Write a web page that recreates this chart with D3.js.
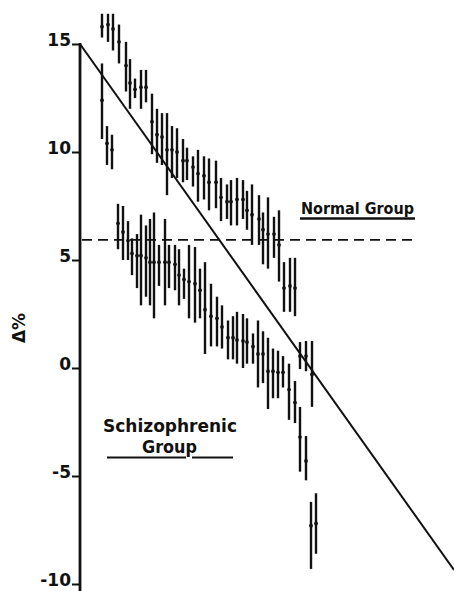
<!DOCTYPE html>
<html>
<head>
<meta charset="utf-8">
<script src="https://cdn.jsdelivr.net/npm/d3@7"></script>
<style>
  html, body { margin: 0; padding: 0; background: #fff; }
  svg { display: block; }
  text { font-family: "DejaVu Sans", "Liberation Sans", Arial, sans-serif; font-weight: bold; fill: #111; }
</style>
</head>
<body>
<svg id="chart" width="454" height="591"></svg>
<script>
// ---- data ----
const normalPos  = [22,28,33,39,46,50,55,61,66,72,77,82,87,92,97,103,107,113,118,124,129,136,141,147,151,157,163,167,172,179,183,188,194,199,204,210,215,22,27,32];
const normalMean = [15.8,15.9,15.7,15.1,14.0,13.2,12.9,13.0,13.0,11.4,10.8,10.7,10.1,10.1,10.0,9.6,9.6,9.3,9.0,8.9,8.6,8.6,7.9,7.7,7.7,7.8,7.8,7.3,7.1,6.9,6.4,6.2,6.2,5.7,3.7,3.8,3.7,12.4,10.4,10.1];
const normalHigh = [16.4,16.4,16.4,15.9,15.1,14.3,13.4,13.8,13.8,12.7,12.0,11.8,11.8,11.2,11.1,10.6,10.2,9.8,10.1,9.8,9.7,9.6,8.8,8.5,8.7,8.8,8.7,8.2,8.5,8.0,7.2,7.9,7.0,7.3,4.9,5.1,5.1,14.1,11.2,10.8];
const normalLow  = [15.3,15.1,14.7,14.1,12.8,12.0,12.5,12.0,12.3,9.9,9.5,9.4,8.0,8.8,8.8,8.6,8.7,8.4,7.7,7.8,7.3,7.4,6.8,6.9,6.6,6.6,6.9,6.4,5.7,5.7,4.8,4.6,5.1,4.0,2.6,2.6,2.4,10.6,9.4,9.2];

const schizPos  = [38,43,48,52,57,61,66,70,74,79,85,89,95,99,104,109,115,120,125,131,137,142,148,153,157,163,167,173,178,183,188,193,198,203,209,215,220,226,220,226,232,231,236];
const schizMean = [6.7,6.3,5.9,5.3,5.2,5.2,5.1,4.9,4.9,4.9,4.9,4.9,4.8,4.3,4.1,4.0,3.9,3.6,2.7,2.4,2.3,1.9,1.4,1.4,1.3,1.25,1.2,1.0,0.65,0.65,-0.15,-0.15,-0.2,-0.2,-1.0,-1.6,-3.2,-4.3,0.55,0.55,-0.3,-7.3,-7.2];
const schizHigh = [7.6,7.5,6.8,6.0,6.2,7.1,6.6,6.9,7.2,5.7,6.9,5.7,5.7,5.5,4.6,5.7,5.6,4.6,4.9,3.9,3.3,2.9,2.2,2.4,2.6,2.5,2.3,1.6,2.2,1.7,1.4,0.9,0.8,0.55,0.2,-0.6,-1.8,-3.15,1.2,1.25,1.25,-6.2,-5.8];
const schizLow  = [5.5,5.0,5.0,4.3,3.7,2.9,3.3,2.9,2.3,3.8,2.9,3.7,3.6,2.9,3.2,2.3,2.1,2.3,0.65,1.0,1.0,0.9,0.4,0.4,0.2,0.0,0.2,0.2,-0.9,-0.7,-1.9,-1.4,-1.4,-0.9,-2.4,-2.55,-4.8,-5.2,-0.05,-0.15,-1.8,-9.3,-8.6];

const regressionX = [0, 374];
const regressionY = [15.0, -9.35];
const normalLevelX = [2, 335];
const normalLevelY = 5.93;

const yTicks = [15, 10, 5, 0, -5, -10];
const yTickLabels = ["15", "10", "5", "0", "-5", "-10"];
const yAxisTitle = "Δ%";
const normalLabel = "Normal Group";
const schizLabel1 = "Schizophrenic";
const schizLabel2 = "Group";

// ---- scales ----
const svg = d3.select("#chart");
const x = d3.scaleLinear().domain([0, 374]).range([80, 454]);
const y = d3.scaleLinear().domain([-10, 15]).range([584, 44]);

// ---- axis ----
const axis = d3.axisLeft(y)
  .tickValues(yTicks)
  .tickSize(8)
  .tickPadding(1)
  .tickFormat((d, i) => yTickLabels[i]);
const gAxis = svg.append("g").attr("transform", `translate(${x(0)},0)`).call(axis);
gAxis.select(".domain").remove();
gAxis.selectAll(".tick line").attr("stroke", "#111").attr("stroke-width", 2);
gAxis.selectAll(".tick text")
  .attr("dy", "0.1em")
  .style("font-size", "17px")
  .style("font-family", "'DejaVu Sans', 'Liberation Sans', Arial, sans-serif")
  .style("font-weight", "bold")
  .attr("fill", "#111");
svg.append("line")
  .attr("x1", x(0)).attr("x2", x(0))
  .attr("y1", y(15) - 1).attr("y2", 591)
  .attr("stroke", "#111").attr("stroke-width", 2.8);

svg.append("text")
  .attr("transform", `translate(25, 328) rotate(-90)`)
  .attr("text-anchor", "middle")
  .style("font-size", "17px")
  .text(yAxisTitle);

// ---- reference lines ----
svg.append("line")
  .attr("x1", x(regressionX[0])).attr("y1", y(regressionY[0]))
  .attr("x2", x(regressionX[1])).attr("y2", y(regressionY[1]))
  .attr("stroke", "#111").attr("stroke-width", 2);

svg.append("line")
  .attr("x1", x(normalLevelX[0])).attr("x2", x(normalLevelX[1]))
  .attr("y1", y(normalLevelY)).attr("y2", y(normalLevelY))
  .attr("stroke", "#111").attr("stroke-width", 1.6)
  .attr("stroke-dasharray", "10,6");

// ---- error bars ----
function drawGroup(pos, mean, hi, lo, cls) {
  const g = svg.append("g").attr("class", cls);
  const idx = d3.range(pos.length);
  g.selectAll("line.bar").data(idx).join("line")
    .attr("class", "bar")
    .attr("x1", i => x(pos[i])).attr("x2", i => x(pos[i]))
    .attr("y1", i => y(hi[i])).attr("y2", i => y(lo[i]))
    .attr("stroke", "#111").attr("stroke-width", 2.4);
  g.selectAll("circle").data(idx).join("circle")
    .attr("cx", i => x(pos[i])).attr("cy", i => y(mean[i]))
    .attr("r", 1.9).attr("fill", "#111");
}
drawGroup(normalPos, normalMean, normalHigh, normalLow, "normal");
drawGroup(schizPos, schizMean, schizHigh, schizLow, "schiz");

// ---- labels ----
svg.append("text")
  .attr("x", 301).attr("y", 214)
  .attr("textLength", 113).attr("lengthAdjust", "spacingAndGlyphs")
  .style("font-size", "16px")
  .text(normalLabel);
svg.append("line")
  .attr("x1", 300).attr("x2", 415).attr("y1", 218.5).attr("y2", 218.5)
  .attr("stroke", "#111").attr("stroke-width", 2.4);

svg.append("text")
  .attr("x", 103).attr("y", 432)
  .attr("textLength", 134).attr("lengthAdjust", "spacingAndGlyphs")
  .style("font-size", "17px")
  .text(schizLabel1);
svg.append("text")
  .attr("x", 142).attr("y", 453)
  .attr("textLength", 55).attr("lengthAdjust", "spacingAndGlyphs")
  .style("font-size", "17px")
  .text(schizLabel2);
svg.append("line")
  .attr("x1", 107).attr("x2", 186).attr("y1", 457.5).attr("y2", 457.5)
  .attr("stroke", "#111").attr("stroke-width", 2);
svg.append("line")
  .attr("x1", 192).attr("x2", 233).attr("y1", 457.5).attr("y2", 457.5)
  .attr("stroke", "#111").attr("stroke-width", 2);
</script>
</body>
</html>
